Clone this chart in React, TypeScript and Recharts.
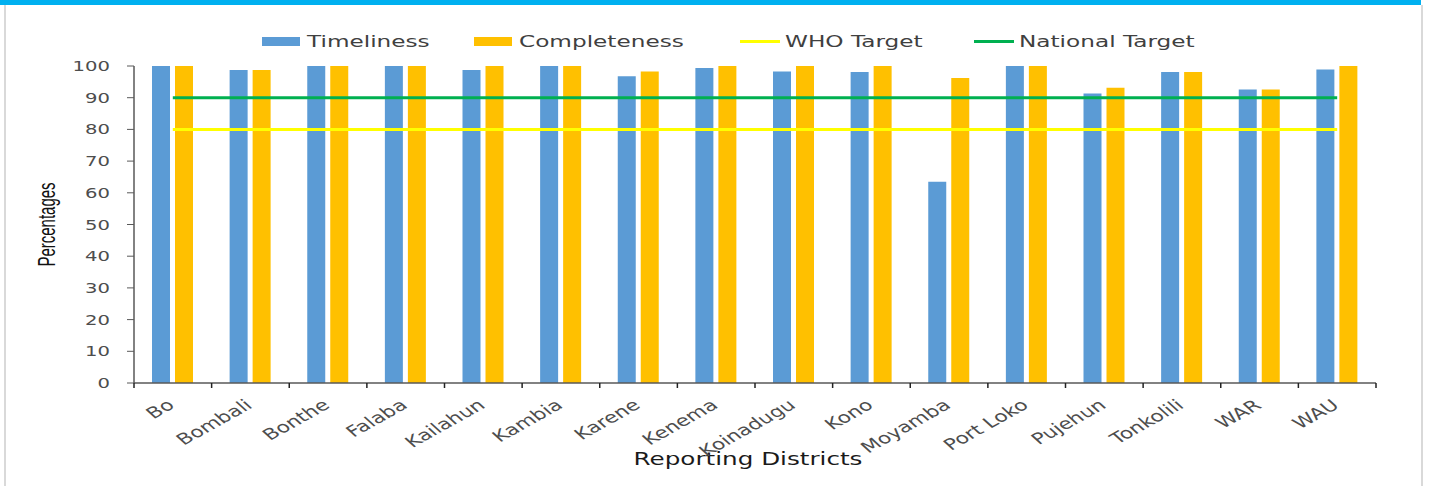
import React from "react";
import {
  ComposedChart,
  Bar,
  Line,
  XAxis,
  YAxis,
} from "recharts";

const districts = [
  "Bo", "Bombali", "Bonthe", "Falaba", "Kailahun", "Kambia", "Karene", "Kenema",
  "Koinadugu", "Kono", "Moyamba", "Port Loko", "Pujehun", "Tonkolili", "WAR", "WAU",
];
const timeliness = [100, 98.7, 100, 100, 98.7, 100, 96.8, 99.4, 98.3, 98.1, 63.5, 100, 91.3, 98.1, 92.6, 98.9];
const completeness = [100, 98.7, 100, 100, 100, 100, 98.3, 100, 100, 100, 96.2, 100, 93.1, 98.1, 92.6, 100];
const whoTarget = [80, 80, 80, 80, 80, 80, 80, 80, 80, 80, 80, 80, 80, 80, 80, 80];
const nationalTarget = [90, 90, 90, 90, 90, 90, 90, 90, 90, 90, 90, 90, 90, 90, 90, 90];
const yTicks = [0, 10, 20, 30, 40, 50, 60, 70, 80, 90, 100];

const data = districts.map((name, i) => ({
  name,
  timeliness: timeliness[i],
  completeness: completeness[i],
  who: whoTarget[i],
  national: nationalTarget[i],
}));

const W = 1429;
const H = 486;
const MARGIN = { top: 66, right: 53, bottom: 0, left: 0 };
const Y_W = 134;
const X_H = 103;
const BAND = (W - Y_W - MARGIN.right) / districts.length;
const STRETCH = 1.4;
const FONT = "'DejaVu Sans', Verdana, sans-serif";

const BLUE = "#5b9bd5";
const GOLD = "#ffc000";
const YELLOW = "#ffff00";
const GREEN = "#00b050";

const legendItems = [
  { label: "Timeliness", color: BLUE, kind: "rect", x: 262 },
  { label: "Completeness", color: GOLD, kind: "rect", x: 474 },
  { label: "WHO Target", color: YELLOW, kind: "line", x: 740 },
  { label: "National Target", color: GREEN, kind: "line", x: 974 },
];

function XTick(props: any) {
  const { x, y, payload, index } = props;
  const left = x - BAND / 2;
  return (
    <g>
      <line x1={left} y1={y} x2={left} y2={y + 5} stroke="#222" strokeWidth={1.5} />
      {index === districts.length - 1 && (
        <line x1={x + BAND / 2} y1={y} x2={x + BAND / 2} y2={y + 5} stroke="#222" strokeWidth={1.5} />
      )}
      <text
        transform={`translate(${x + 3},${y + 24}) scale(${STRETCH},1) rotate(-38)`}
        textAnchor="end"
        fontFamily={FONT}
        fontSize={15.5}
        fill="#4d4d4d"
      >
        {payload.value}
      </text>
    </g>
  );
}

function YTick(props: any) {
  const { x, y, payload } = props;
  return (
    <text
      transform={`translate(${x},${y + 5}) scale(${STRETCH},1)`}
      textAnchor="end"
      fontFamily={FONT}
      fontSize={14}
      fill="#4d4d4d"
    >
      {payload.value}
    </text>
  );
}

function Legend() {
  return (
    <svg width={W} height={60} style={{ position: "absolute", left: 0, top: 0 }}>
      {legendItems.map((it) => (
        <g key={it.label}>
          {it.kind === "rect" ? (
            <rect x={it.x} y={37} width={38} height={9} fill={it.color} />
          ) : (
            <line x1={it.x} y1={41.5} x2={it.x + 40} y2={41.5} stroke={it.color} strokeWidth={3} />
          )}
          <text
            transform={`translate(${it.x + 45},${47}) scale(1.45,1)`}
            fontFamily={FONT}
            fontSize={16}
            fill="#404040"
          >
            {it.label}
          </text>
        </g>
      ))}
    </svg>
  );
}

export default function App() {
  return (
    <div
      style={{
        position: "absolute",
        left: 0,
        top: 0,
        width: W,
        height: H,
        background: "#fff",
        overflow: "hidden",
      }}
    >
      {/* frame */}
      <div style={{ position: "absolute", left: 0, top: 0, width: 1421, height: 5, background: "#00b0f0" }} />
      <div style={{ position: "absolute", left: 4, top: 5, width: 2, height: H, background: "#d9d9d9" }} />
      <div style={{ position: "absolute", left: 1421, top: 5, width: 2, height: H, background: "#d9d9d9" }} />

      <ComposedChart
        width={W}
        height={H}
        data={data}
        margin={MARGIN}
        barSize={18}
        barGap={5}
        style={{ position: "absolute", left: 0, top: 0 }}
      >
        <XAxis
          dataKey="name"
          height={X_H}
          interval={0}
          tickLine={false}
          tickSize={0}
          tickMargin={0}
          axisLine={{ stroke: "#595959", strokeWidth: 1.5 }}
          tick={<XTick />}
          label={{
            content: (p: any) => {
              const vb = p.viewBox;
              return (
                <text
                  transform={`translate(${vb.x + vb.width / 2 - 7},${vb.y + 82}) scale(1.45,1)`}
                  textAnchor="middle"
                  fontFamily={FONT}
                  fontSize={17}
                  fill="#1a1a1a"
                >
                  Reporting Districts
                </text>
              );
            },
          }}
        />
        <YAxis
          width={Y_W}
          domain={[0, 100]}
          ticks={yTicks}
          interval={0}
          tickSize={7}
          tickMargin={17}
          tickLine={{ stroke: "#595959" }}
          axisLine={{ stroke: "#595959", strokeWidth: 1.5 }}
          tick={<YTick />}
          label={{
            content: (p: any) => {
              const vb = p.viewBox;
              return (
                <text
                  transform={`translate(${55},${vb.y + vb.height / 2}) scale(1.6,1) rotate(-90)`}
                  textAnchor="middle"
                  fontFamily="'Liberation Sans Narrow', 'Liberation Sans', sans-serif"
                  fontSize={15}
                  fill="#111"
                >
                  Percentages
                </text>
              );
            },
          }}
        />
        <Bar dataKey="timeliness" name="Timeliness" fill={BLUE} isAnimationActive={false} />
        <Bar dataKey="completeness" name="Completeness" fill={GOLD} isAnimationActive={false} />
        <Line
          dataKey="who"
          name="WHO Target"
          stroke={YELLOW}
          strokeWidth={3}
          dot={false}
          activeDot={false}
          isAnimationActive={false}
        />
        <Line
          dataKey="national"
          name="National Target"
          stroke={GREEN}
          strokeWidth={3}
          dot={false}
          activeDot={false}
          isAnimationActive={false}
        />
      </ComposedChart>
      <Legend />
    </div>
  );
}
